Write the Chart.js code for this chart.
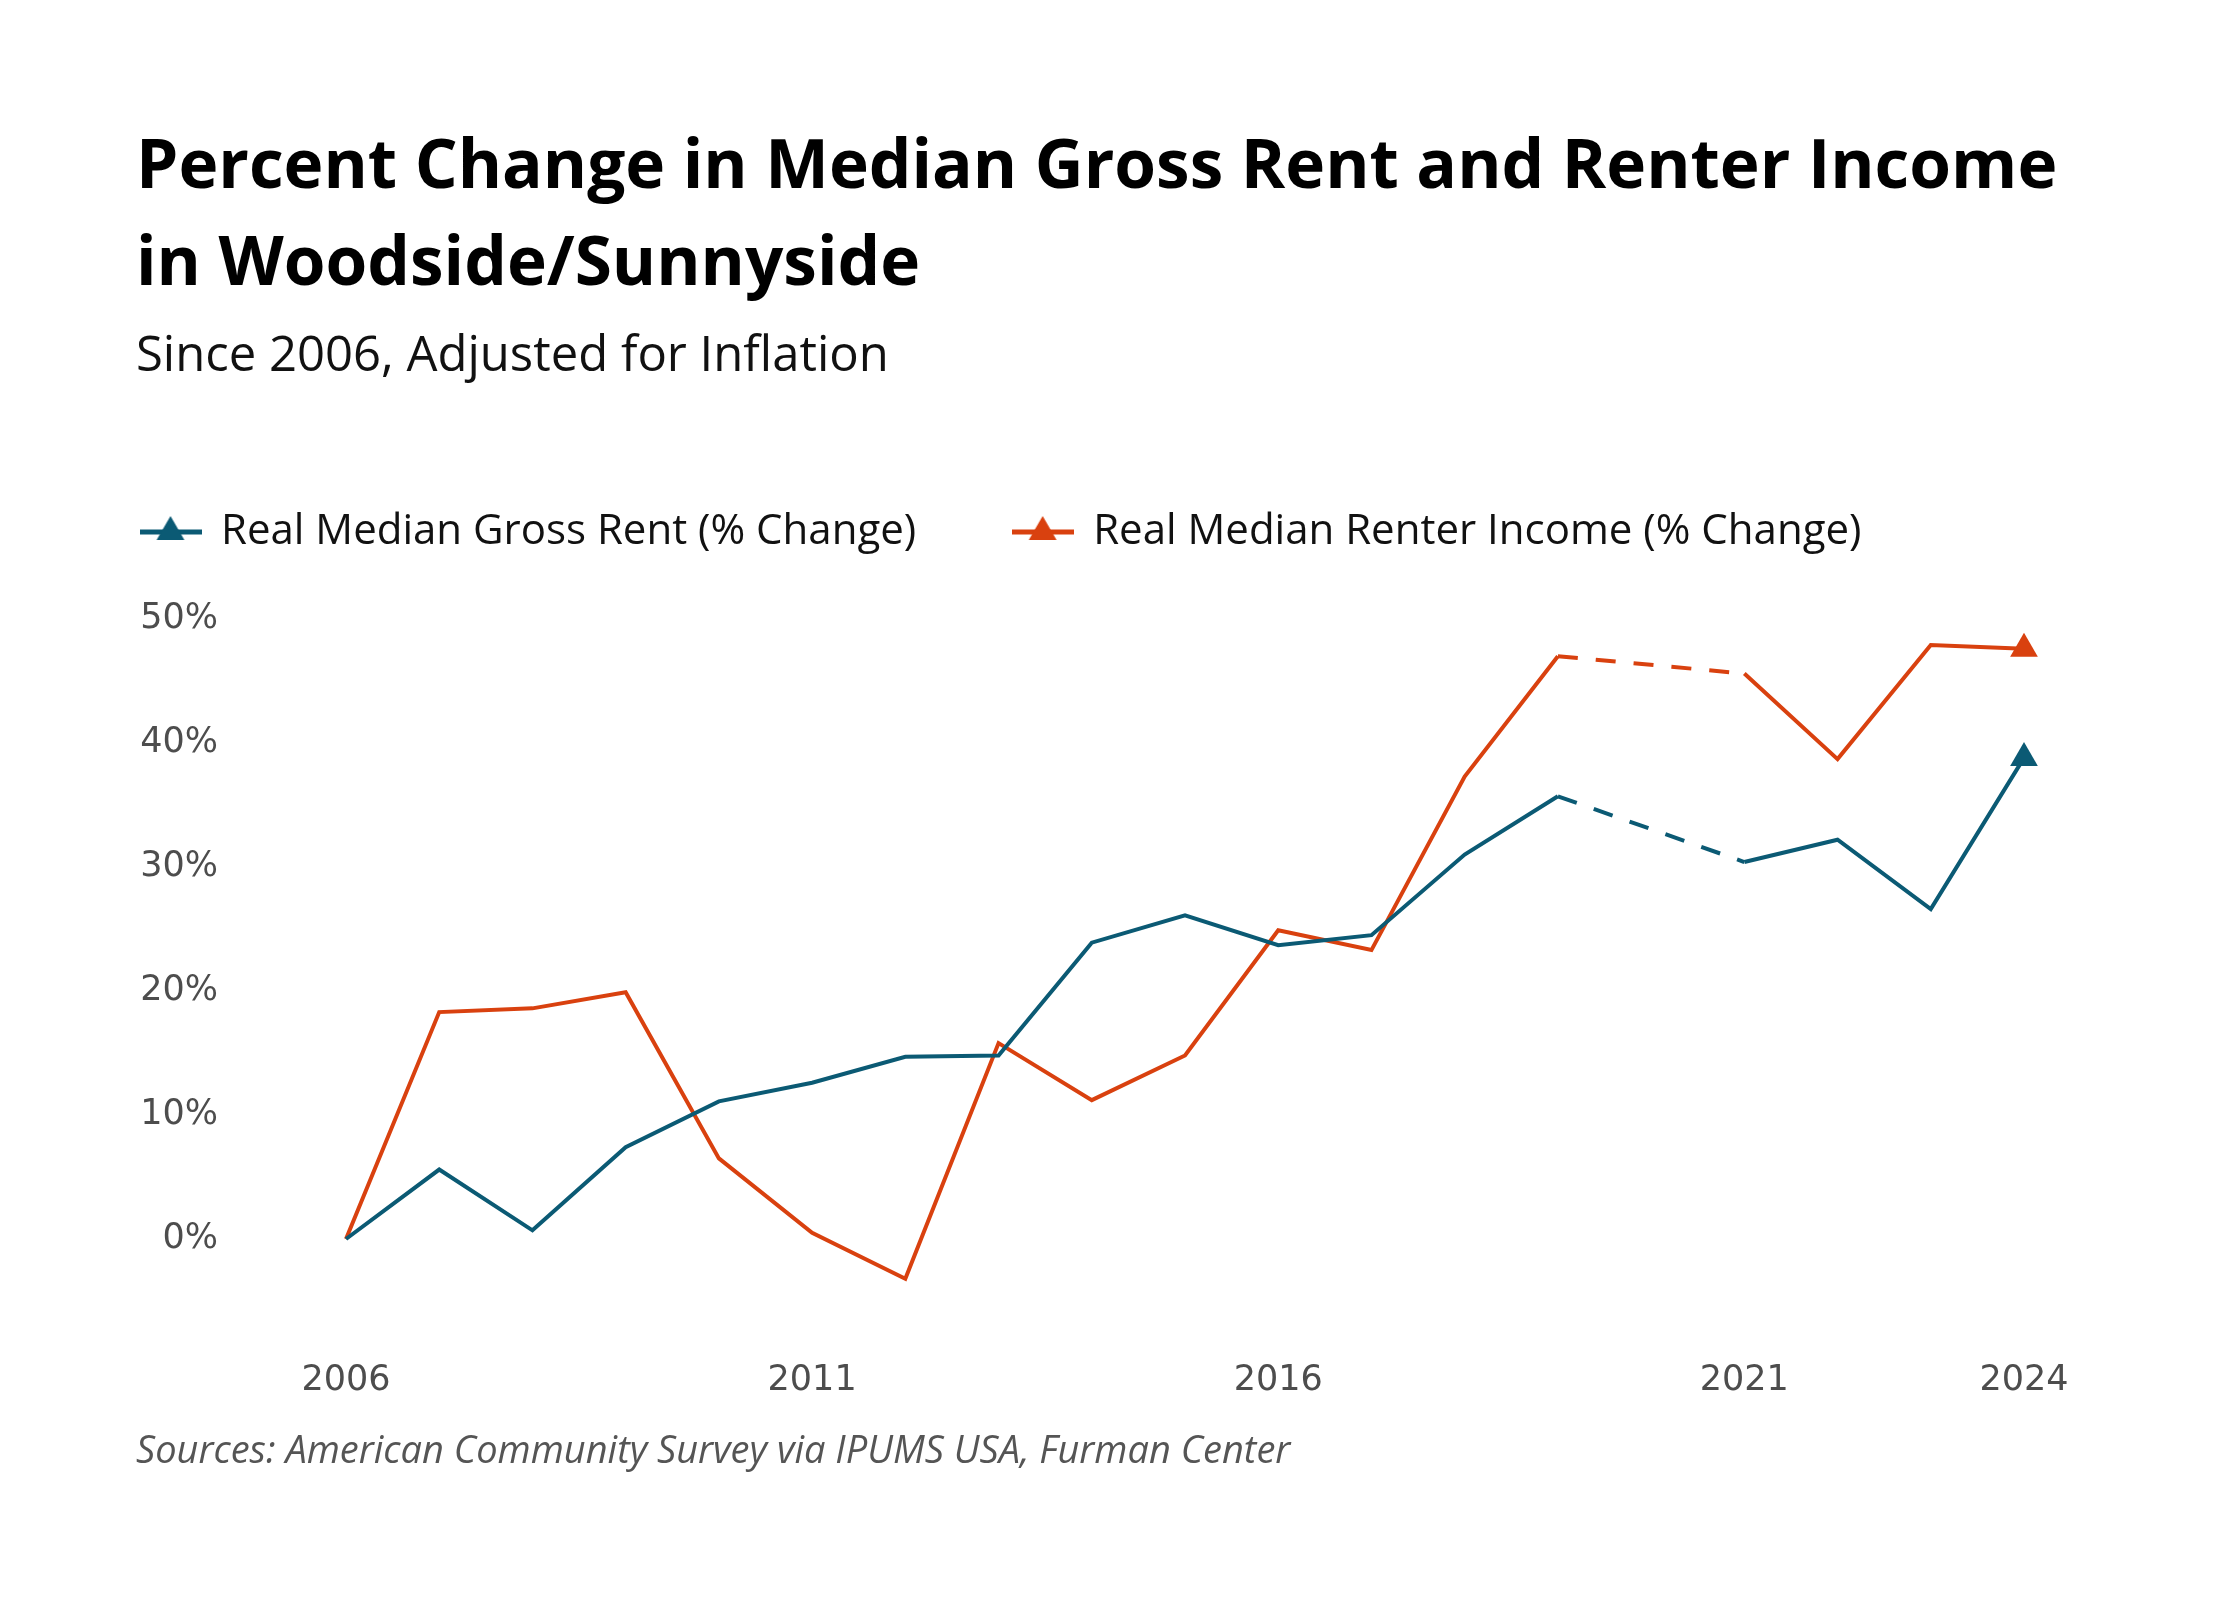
<!DOCTYPE html>
<html>
<head>
  <title>Percent Change in Median Gross Rent and Renter Income</title>
  <script src="https://cdn.jsdelivr.net/npm/chart.js@4.4.1/dist/chart.umd.min.js"></script>
  <style>
    body { margin: 0; background: #fff; }
    #wrap { position: relative; width: 2240px; height: 1600px; }
    #chart { position: absolute; left: 0; top: 0; }
    .txt { position: absolute; left: 136px; font-family: 'Open Sans', sans-serif; white-space: nowrap; }
    #title { top: 114px; font-size: 67.5px; font-weight: 700; line-height: 97px; color: #000; }
    #subtitle { top: 328px; font-size: 49px; line-height: 49px; color: #111; }
    #source { top: 1429px; font-size: 38px; line-height: 38px; font-style: italic; color: #555; }
  </style>
</head>
<body>
<div id="wrap">
  <canvas id="chart" width="2240" height="1600"></canvas>
  <div id="title" class="txt">Percent Change in Median Gross Rent and Renter Income<br>in Woodside/Sunnyside</div>
  <div id="subtitle" class="txt">Since 2006, Adjusted for Inflation</div>
  <div id="source" class="txt">Sources: American Community Survey via IPUMS USA, Furman Center</div>
</div>

<script>
  // data (2020 has no estimate, the gap is drawn dashed)
  const years = [2006, 2007, 2008, 2009, 2010, 2011, 2012, 2013, 2014, 2015,
                 2016, 2017, 2018, 2019, 2020, 2021, 2022, 2023, 2024];
  const rentChange = [0, 5.6, 0.7, 7.4, 11.1, 12.6, 14.7, 14.8, 23.9, 26.1,
                      23.7, 24.5, 31.0, 35.7, null, 30.4, 32.2, 26.6, 38.8];
  const incomeChange = [0, 18.3, 18.6, 19.9, 6.5, 0.5, -3.2, 15.8, 11.2, 14.8,
                        24.9, 23.3, 37.3, 47.0, null, 45.6, 38.7, 47.9, 47.6];
  const seriesNames = ['Real Median Gross Rent (% Change)', 'Real Median Renter Income (% Change)'];
  const seriesColors = ['#0b5a74', '#d9410f'];
  const xTickYears = [2006, 2011, 2016, 2021, 2024];
  const yTickValues = [0, 10, 20, 30, 40, 50];

  // legend marker: short line with a triangle on it
  function legendMarker(color) {
    const c = document.createElement('canvas');
    c.width = 62;
    c.height = 36;
    const g = c.getContext('2d');
    g.fillStyle = color;
    g.fillRect(0, 15.5, 62, 5);
    g.beginPath();
    g.moveTo(31, 2);
    g.lineTo(31 + 13.9, 26);
    g.lineTo(31 - 13.9, 26);
    g.closePath();
    g.fill();
    return c;
  }
  const legendMarkers = seriesColors.map(legendMarker);

  // extra room between legend and plot
  const legendGap = {
    id: 'legendGap',
    beforeInit(chart) {
      const fit = chart.legend.fit;
      chart.legend.fit = function () {
        fit.call(this);
        this.height += 56;
      };
    }
  };

  const lastIdx = years.length - 1;
  function makeDataset(i, values) {
    return {
      label: seriesNames[i],
      data: years.map((yr, k) => ({ x: yr, y: values[k] })),
      borderColor: seriesColors[i],
      backgroundColor: seriesColors[i],
      borderWidth: 4,
      borderJoinStyle: 'miter',
      tension: 0,
      spanGaps: true,
      clip: false,
      pointStyle: 'triangle',
      pointRadius: ctx => ctx.dataIndex === lastIdx ? 16 : 0,
      pointHoverRadius: ctx => ctx.dataIndex === lastIdx ? 16 : 0,
      pointBorderWidth: 0,
      pointBackgroundColor: seriesColors[i],
      segment: {
        borderDash: ctx => (ctx.p0.skip || ctx.p1.skip) ? [20, 18] : undefined
      }
    };
  }

  new Chart(document.getElementById('chart'), {
    type: 'line',
    data: {
      datasets: [makeDataset(0, rentChange), makeDataset(1, incomeChange)]
    },
    options: {
      responsive: false,
      devicePixelRatio: 1,
      animation: false,
      layout: { padding: { left: 44, top: 414, right: 216, bottom: 139 } },
      plugins: {
        tooltip: { enabled: false },
        legend: {
          align: 'start',
          labels: {
            usePointStyle: true,
            pointStyleWidth: 59,
            padding: 97,
            color: '#111',
            font: { family: 'Open Sans', size: 42 },
            generateLabels: chart =>
              Chart.defaults.plugins.legend.labels.generateLabels(chart)
                .map((item, i) => ({ ...item, pointStyle: legendMarkers[i] }))
          }
        }
      },
      scales: {
        x: {
          type: 'linear',
          min: 2006,
          max: 2024,
          grid: { display: false, drawTicks: false },
          border: { display: false },
          afterBuildTicks: scale => { scale.ticks = xTickYears.map(v => ({ value: v })); },
          ticks: {
            autoSkip: false,
            maxRotation: 0,
            padding: 59,
            color: '#4d4d4d',
            font: { family: 'DejaVu Sans', size: 35 },
            callback: v => String(v)
          }
        },
        y: {
          min: -5,
          max: 50,
          grid: { display: false, drawTicks: false },
          border: { display: false },
          afterFit: scale => { scale.width = 302; },
          afterBuildTicks: scale => { scale.ticks = yTickValues.map(v => ({ value: v })); },
          ticks: {
            padding: 128,
            color: '#4d4d4d',
            font: { family: 'DejaVu Sans', size: 35 },
            callback: v => v + '%'
          }
        }
      }
    },
    plugins: [legendGap]
  });
</script>
</body>
</html>
